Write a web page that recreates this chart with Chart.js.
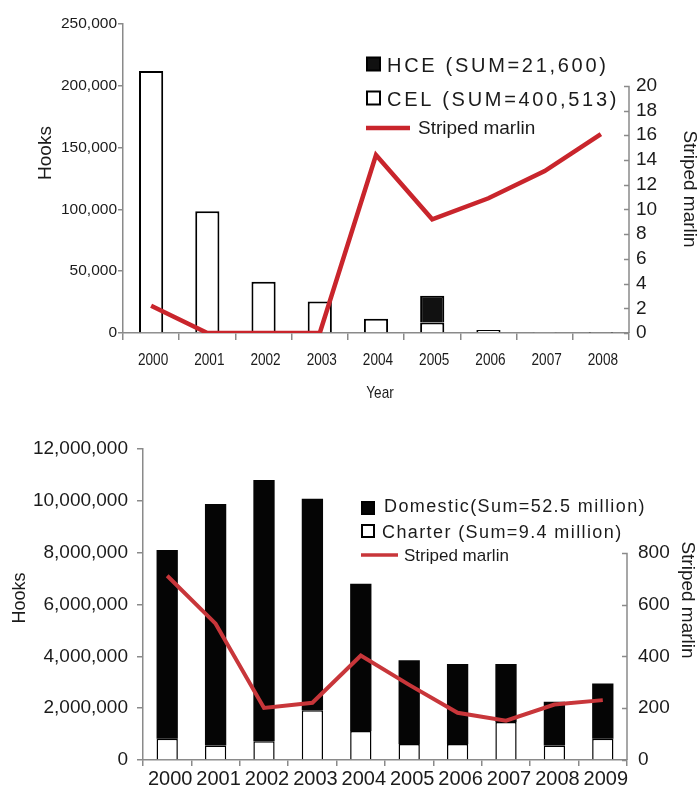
<!DOCTYPE html>
<html>
<head>
<meta charset="utf-8">
<script src="https://cdn.jsdelivr.net/npm/chart.js@4.4.1/dist/chart.umd.min.js"></script>
<style>
  html, body { margin: 0; padding: 0; background: #fff; }
  #wrap { position: relative; width: 700px; height: 794px; }
  canvas { position: absolute; left: 0; }
  #chart1 { top: 0; }
  #chart2 { top: 420px; }
</style>
</head>
<body>
<div id="wrap">
  <canvas id="chart1" width="700" height="410"></canvas>
  <canvas id="chart2" width="700" height="374"></canvas>
</div>
<script>
// upper panel: hooks by year, HCE / CEL, with striped marlin catch
const years1 = ['2000', '2001', '2002', '2003', '2004', '2005', '2006', '2007', '2008'];
const celHooks = [212000, 98500, 41500, 25500, 11500, 8500, 2500, 400, 300];
const hceHooks = [0, 0, 0, 0, 0, 21600, 0, 0, 0];
const marlin1 = [2.2, 0, 0, 0, 14.4, 9.2, 10.9, 13.1, 16.1];

// lower panel: domestic / charter hooks, with striped marlin catch
const years2 = ['2000', '2001', '2002', '2003', '2004', '2005', '2006', '2007', '2008', '2009'];
const charterHooks = [820000, 560000, 720000, 1920000, 1120000, 620000, 620000, 1470000, 560000, 820000];
const domesticHooks = [7280000, 9320000, 10080000, 8160000, 5680000, 3230000, 3080000, 2230000, 1690000, 2130000];
const marlin2 = [711, 526, 201, 221, 403, 290, 182, 152, 214, 231];

const ink = '#1b1b1b';
const axisColor = '#8a8a8a';
const sans = '"Liberation Sans", Arial, sans-serif';

// right-hand marlin axis: line and inward ticks only up to the last labelled value
const marlinAxis = {
  id: 'marlinAxis',
  afterDraw(chart, args, opts) {
    const s = chart.scales.y1;
    const ctx = chart.ctx;
    const x = s.left;
    ctx.save();
    ctx.strokeStyle = axisColor;
    ctx.lineWidth = 1.5;
    ctx.beginPath();
    ctx.moveTo(x, s.getPixelForValue(opts.max));
    ctx.lineTo(x, s.getPixelForValue(0));
    s.ticks.forEach(t => {
      if (t.value <= opts.max) {
        const y = Math.round(s.getPixelForValue(t.value)) + 0.5;
        ctx.moveTo(x - 5, y);
        ctx.lineTo(x, y);
      }
    });
    ctx.stroke();
    ctx.restore();
  }
};

// category labels set in a condensed face (squeezed horizontally)
const squeezedTicks = {
  id: 'squeezedTicks',
  afterDraw(chart, args, opts) {
    const s = chart.scales.x;
    const ctx = chart.ctx;
    chart.data.labels.forEach((lab, i) => {
      ctx.save();
      ctx.translate(s.getPixelForTick(i) + (opts.shift || 0), opts.y);
      ctx.scale(opts.squeeze, 1);
      ctx.font = opts.font;
      ctx.fillStyle = ink;
      ctx.textAlign = 'center';
      ctx.textBaseline = 'middle';
      ctx.fillText(lab, 0, 0);
      ctx.restore();
    });
  }
};

// free-standing axis titles
const axisTitles = {
  id: 'axisTitles',
  afterDraw(chart, args, opts) {
    const ctx = chart.ctx;
    opts.items.forEach(t => {
      ctx.save();
      ctx.translate(t.x, t.y);
      ctx.rotate(t.rot || 0);
      ctx.scale(t.squeeze || 1, 1);
      ctx.font = t.font;
      ctx.fillStyle = ink;
      ctx.textAlign = 'center';
      ctx.textBaseline = 'middle';
      ctx.fillText(t.text, 0, 0);
      ctx.restore();
    });
  }
};

// legend block drawn inside the plot
const boxLegend = {
  id: 'boxLegend',
  afterDraw(chart, args, opts) {
    const ctx = chart.ctx;
    opts.rows.forEach(row => {
      const ds = chart.data.datasets[row.dataset];
      ctx.save();
      if (ds.type === 'line') {
        ctx.strokeStyle = ds.borderColor;
        ctx.lineWidth = row.lineWidth;
        ctx.beginPath();
        ctx.moveTo(opts.x, row.y);
        ctx.lineTo(opts.x + row.mark, row.y);
        ctx.stroke();
      } else {
        const b = opts.box;
        const by = row.y - b / 2 + (row.boxShift || 0);
        ctx.fillStyle = ds.backgroundColor;
        ctx.fillRect(opts.x + 1, by, b - 2, b - 2);
        ctx.strokeStyle = '#000';
        ctx.lineWidth = 2;
        ctx.strokeRect(opts.x + 1, by, b - 2, b - 2);
      }
      ctx.font = row.font;
      ctx.letterSpacing = row.spacing || '0px';
      ctx.fillStyle = ink;
      ctx.textBaseline = 'middle';
      ctx.fillText(ds.label, row.textX, row.y + 1);
      ctx.restore();
    });
  }
};

function fixWidth(w) { return s => { s.width = w; }; }
function fixHeight(h) { return s => { s.height = h; }; }

new Chart(document.getElementById('chart1'), {
  type: 'bar',
  data: {
    labels: years1,
    datasets: [
      { type: 'line', label: 'Striped marlin', data: marlin1, yAxisID: 'y1', order: 0,
        borderColor: '#c9252c', borderWidth: 4.5, pointRadius: 0, tension: 0 },
      { label: 'CEL (SUM=400,513)', data: celHooks, yAxisID: 'y', order: 1,
        backgroundColor: '#ffffff', borderColor: '#000', borderWidth: 2,
        barPercentage: 0.43, categoryPercentage: 1 },
      { label: 'HCE (SUM=21,600)', data: hceHooks, yAxisID: 'y', order: 1,
        backgroundColor: '#111111', borderColor: '#000', borderWidth: 2,
        barPercentage: 0.43, categoryPercentage: 1 }
    ]
  },
  options: {
    responsive: false,
    animation: false,
    layout: { padding: { top: 24 } },
    plugins: {
      legend: { display: false },
      tooltip: { enabled: false },
      marlinAxis: { max: 20 },
      squeezedTicks: { y: 360, font: '17px ' + sans, squeeze: 0.8, shift: 2 },
      axisTitles: { items: [
        { text: 'Hooks', x: 46, y: 153, rot: -Math.PI / 2, font: '19px ' + sans },
        { text: 'Striped marlin', x: 689, y: 189, rot: Math.PI / 2, font: '19px ' + sans },
        { text: 'Year', x: 380, y: 393, font: '17px ' + sans, squeeze: 0.8 }
      ] },
      boxLegend: { x: 366, box: 15, rows: [
        { dataset: 2, y: 65, textX: 387, font: '20px ' + sans, spacing: '2.7px' },
        { dataset: 1, y: 99, textX: 387, font: '20px ' + sans, spacing: '2.7px' },
        { dataset: 0, y: 128, textX: 418, mark: 44, lineWidth: 4.5, font: '19px ' + sans }
      ] }
    },
    scales: {
      x: {
        stacked: true,
        afterFit: fixHeight(77),
        grid: { display: true, drawOnChartArea: false, offset: true, tickLength: 7, color: axisColor, lineWidth: 1.5 },
        border: { color: axisColor, width: 1.5 },
        ticks: { display: false }
      },
      y: {
        stacked: true,
        min: 0, max: 250000,
        afterFit: fixWidth(123),
        grid: { display: true, drawOnChartArea: false, tickLength: 5, color: axisColor, lineWidth: 1.5 },
        border: { color: axisColor, width: 1.5 },
        ticks: { stepSize: 50000, color: ink, font: { family: sans, size: 15.5 }, padding: 1,
          callback: v => v.toLocaleString('en-US') }
      },
      y1: {
        position: 'right',
        min: 0, max: 25,
        afterFit: fixWidth(71),
        grid: { display: false, drawTicks: false, tickLength: 0 },
        border: { display: false },
        ticks: { stepSize: 2, autoSkip: false, color: ink, font: { family: sans, size: 19 }, padding: 7,
          callback: v => v <= 20 ? String(v) : '' }
      }
    }
  },
  plugins: [marlinAxis, squeezedTicks, axisTitles, boxLegend]
});

new Chart(document.getElementById('chart2'), {
  type: 'bar',
  data: {
    labels: years2,
    datasets: [
      { type: 'line', label: 'Striped marlin', data: marlin2, yAxisID: 'y1', order: 0,
        borderColor: '#c8363a', borderWidth: 4, pointRadius: 0, tension: 0 },
      { label: 'Charter (Sum=9.4 million)', data: charterHooks, yAxisID: 'y', order: 1,
        backgroundColor: '#ffffff', borderColor: '#000', borderWidth: 1.5,
        barPercentage: 0.44, categoryPercentage: 1 },
      { label: 'Domestic(Sum=52.5 million)', data: domesticHooks, yAxisID: 'y', order: 1,
        backgroundColor: '#050505', borderColor: '#000', borderWidth: 0,
        barPercentage: 0.44, categoryPercentage: 1 }
    ]
  },
  options: {
    responsive: false,
    animation: false,
    layout: { padding: { top: 29 } },
    plugins: {
      legend: { display: false },
      tooltip: { enabled: false },
      marlinAxis: { max: 800 },
      axisTitles: { items: [
        { text: 'Hooks', x: 20, y: 178, rot: -Math.PI / 2, font: '18px ' + sans },
        { text: 'Striped marlin', x: 687, y: 180, rot: Math.PI / 2, font: '19px ' + sans }
      ] },
      boxLegend: { x: 361, box: 14, rows: [
        { dataset: 2, y: 86, textX: 384, font: '18px ' + sans, spacing: '1.4px', boxShift: 3 },
        { dataset: 1, y: 112, textX: 382, font: '18px ' + sans, spacing: '1.4px' },
        { dataset: 0, y: 135, textX: 404, mark: 37, lineWidth: 3.5, font: '17px ' + sans }
      ] }
    },
    scales: {
      x: {
        stacked: true,
        afterFit: fixHeight(34),
        grid: { display: true, drawOnChartArea: false, offset: true, tickLength: 6, color: axisColor, lineWidth: 1.5 },
        border: { color: axisColor, width: 1.5 },
        ticks: { color: ink, font: { family: sans, size: 20 }, padding: 1, labelOffset: 3, autoSkip: false, maxRotation: 0 }
      },
      y: {
        stacked: true,
        min: 0, max: 12000000,
        afterFit: fixWidth(143),
        grid: { display: true, drawOnChartArea: false, tickLength: 6, color: axisColor, lineWidth: 1.5 },
        border: { color: axisColor, width: 1.5 },
        ticks: { stepSize: 2000000, color: ink, font: { family: sans, size: 19 }, padding: 9,
          callback: v => v.toLocaleString('en-US') }
      },
      y1: {
        position: 'right',
        min: 0, max: 1200,
        afterFit: fixWidth(73),
        grid: { display: false, drawTicks: false, tickLength: 0 },
        border: { display: false },
        ticks: { stepSize: 200, autoSkip: false, color: ink, font: { family: sans, size: 19 }, padding: 11,
          callback: v => v <= 800 ? String(v) : '' }
      }
    }
  },
  plugins: [marlinAxis, axisTitles, boxLegend]
});
</script>
</body>
</html>
